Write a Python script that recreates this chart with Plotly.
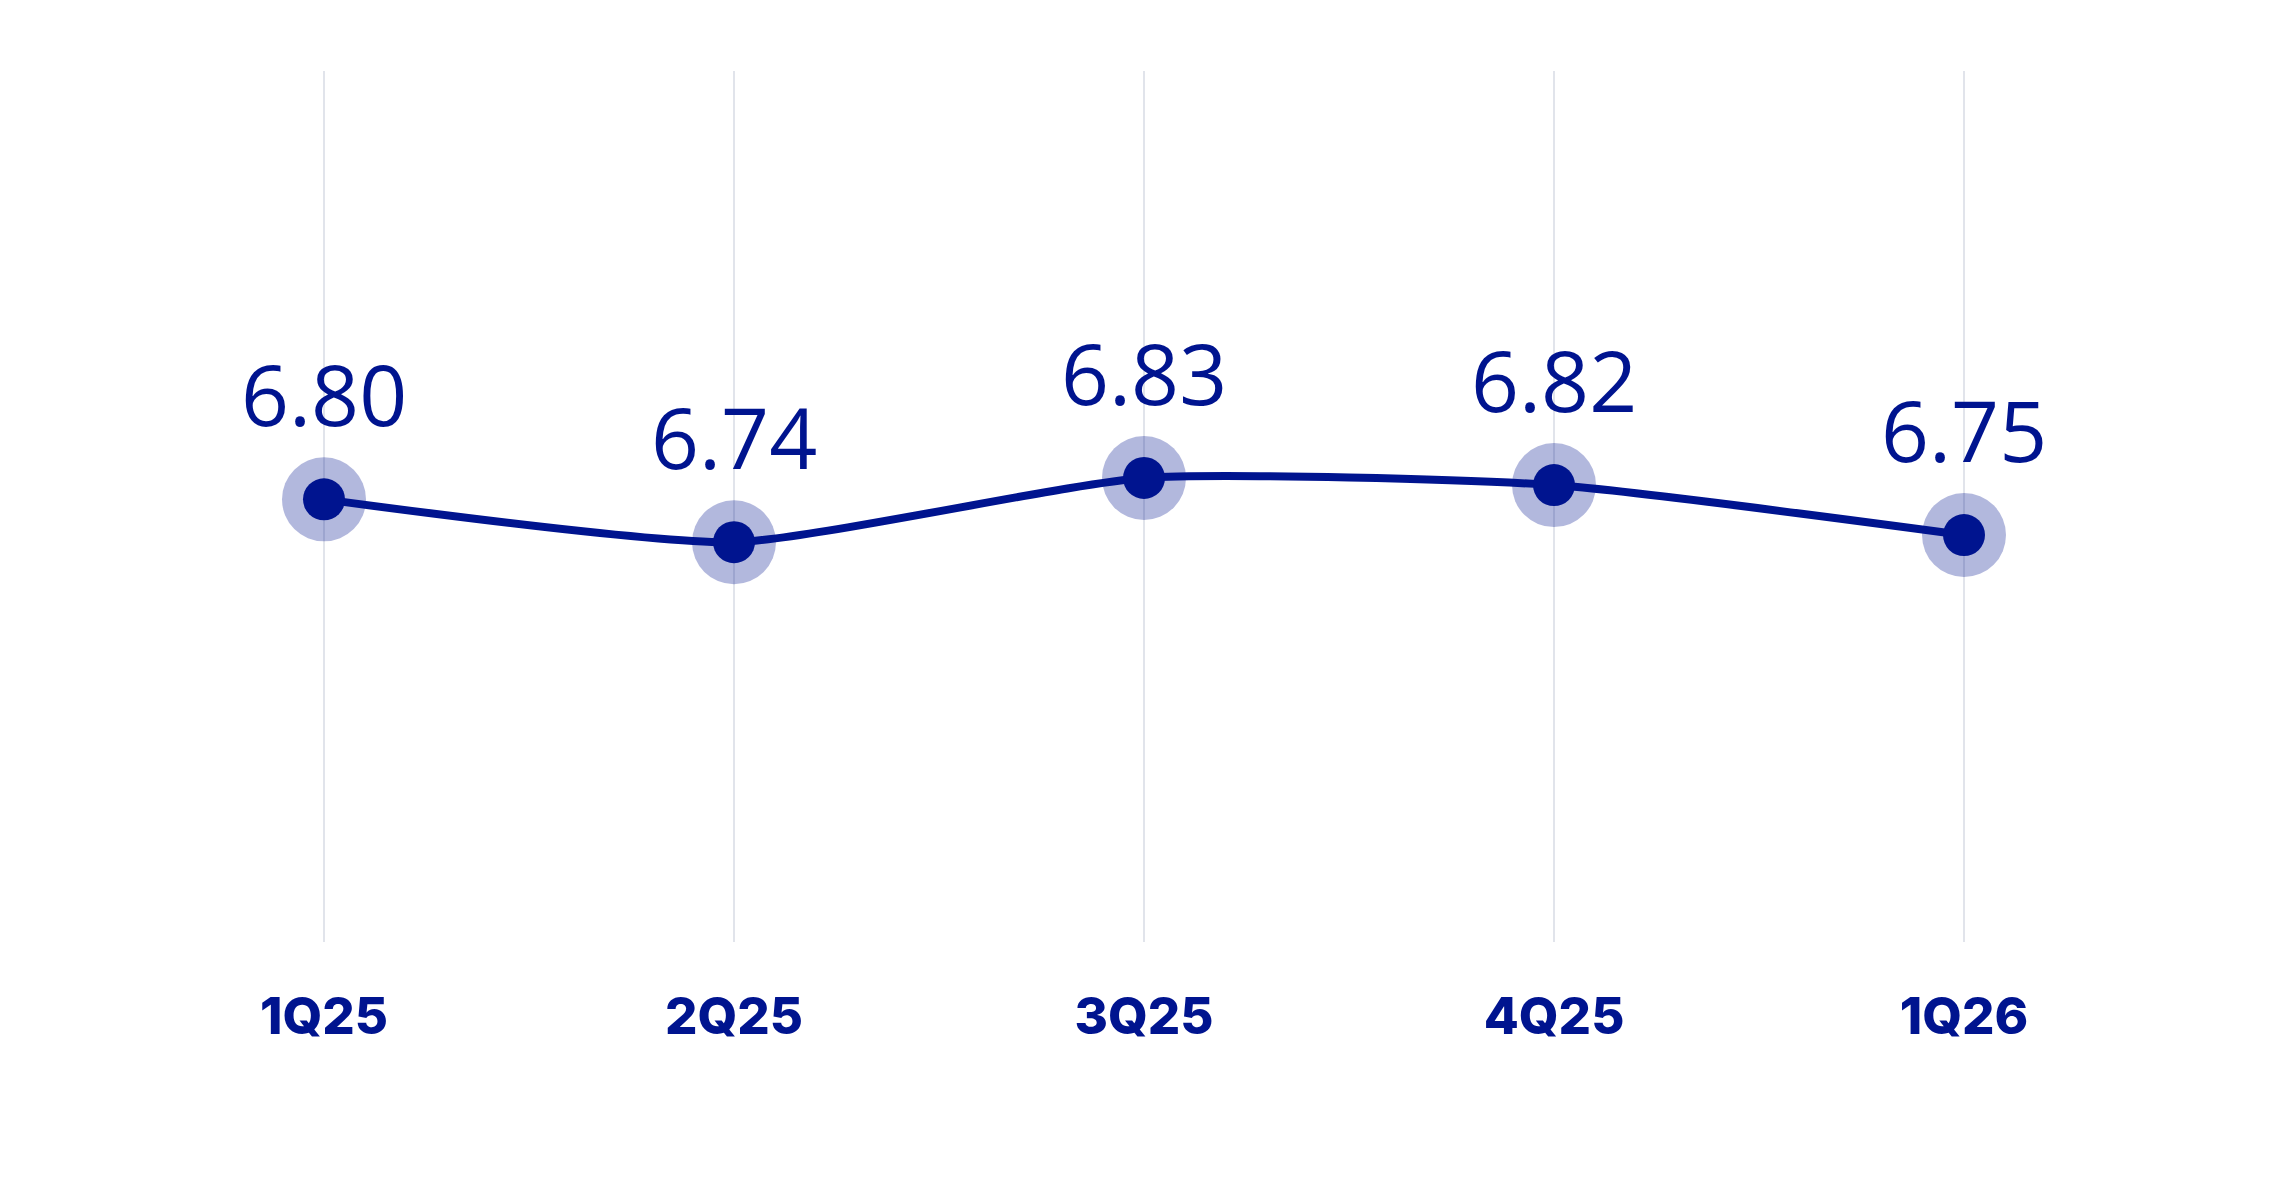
import plotly.graph_objects as go

categories = ["1Q25", "2Q25", "3Q25", "4Q25", "1Q26"]
values = [6.80, 6.74, 6.83, 6.82, 6.75]
labels = ["6.80", "6.74", "6.83", "6.82", "6.75"]

NAVY = "rgb(0,20,143)"
HALO = "rgba(0,20,143,0.3)"

fig = go.Figure()
fig.add_trace(go.Scatter(
    x=categories, y=values, mode="markers",
    marker=dict(size=84, color=HALO, line=dict(width=0)),
    hoverinfo="skip", showlegend=False,
))
fig.add_trace(go.Scatter(
    x=categories, y=values, mode="lines+markers",
    line=dict(color=NAVY, width=8, shape="spline", smoothing=0.55),
    marker=dict(size=42, color=NAVY, line=dict(width=0)),
    showlegend=False,
))

for c, v, t in zip(categories, values, labels):
    fig.add_annotation(
        x=c, y=v, text=t, showarrow=False, xref="x", yref="y",
        yanchor="bottom", xanchor="center", yshift=46,
        font=dict(family="Open Sans", size=84, color=NAVY, weight=500),
    )

fig.update_layout(
    width=2292, height=1188,
    margin=dict(l=111, r=131, t=63, b=254),
    paper_bgcolor="white", plot_bgcolor="white",
    xaxis=dict(
        type="category", range=[-0.5, 4.5],
        showgrid=True, gridcolor="#e1e4eb", gridwidth=1.5,
        showline=False, zeroline=False, ticks="",
        tickfont=dict(family="Inter", size=51, color=NAVY, weight=800),
        ticklabelstandoff=40,
    ),
    yaxis=dict(
        range=[6.18, 7.40], showgrid=False, zeroline=False,
        showline=False, showticklabels=False, ticks="",
    ),
)

fig.write_html("out.html")
